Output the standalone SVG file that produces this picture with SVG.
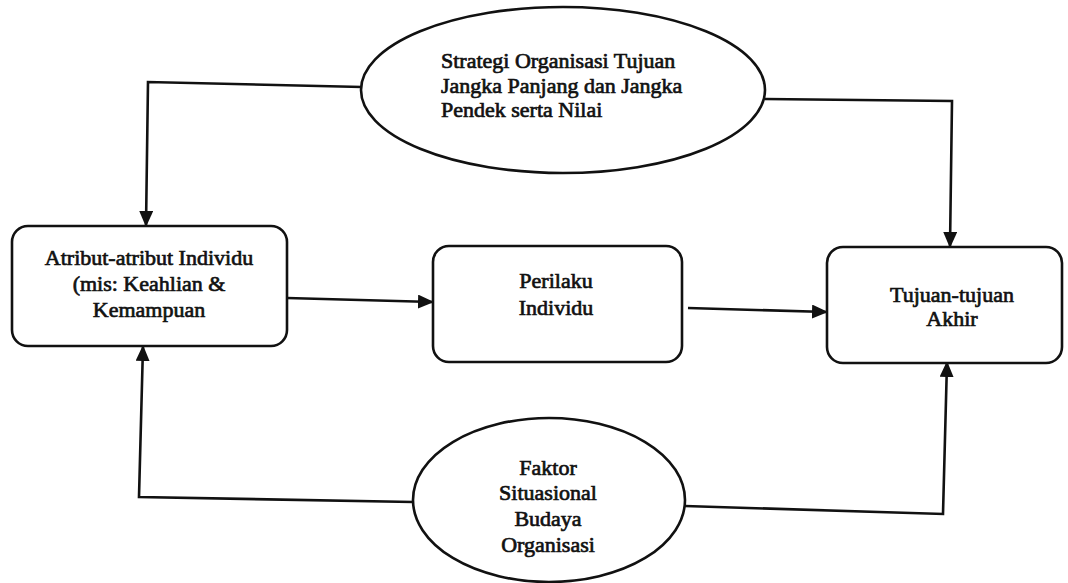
<svg xmlns="http://www.w3.org/2000/svg" width="1068" height="583" viewBox="0 0 1068 583">
<style>
.shape{fill:#fff;stroke:#111;stroke-width:2.6}
.conn{fill:none;stroke:#111;stroke-width:2.6;stroke-linejoin:miter}
.t{font-family:"Liberation Serif","Times New Roman",serif;font-size:22px;fill:#111;stroke:#111;stroke-width:0.7}
.c{text-anchor:middle}
</style>
<defs>
<marker id="ah" markerUnits="userSpaceOnUse" markerWidth="16" markerHeight="14" refX="15" refY="7" orient="auto">
<path d="M0,0 L16,7 L0,14 Z" fill="#111"/>
</marker>
</defs>
<rect width="1068" height="583" fill="#fff"/>
<g id="connectors">
<polyline class="conn" points="362,87 148,82 146,226" marker-end="url(#ah)"/>
<polyline class="conn" points="765,99 952,101 950,247" marker-end="url(#ah)"/>
<line class="conn" x1="287" y1="298" x2="433" y2="302" marker-end="url(#ah)"/>
<line class="conn" x1="688" y1="308" x2="827" y2="312" marker-end="url(#ah)"/>
<polyline class="conn" points="413,502 139,497 143,346" marker-end="url(#ah)"/>
<polyline class="conn" points="685,506 943,514 947,362" marker-end="url(#ah)"/>
</g>
<g id="strategi">
<ellipse class="shape" cx="563" cy="90" rx="202" ry="83"/>
<text class="t" x="441" y="68">Strategi Organisasi Tujuan</text>
<text class="t" x="441" y="93">Jangka Panjang dan Jangka</text>
<text class="t" x="441" y="117">Pendek serta Nilai</text>
</g>
<g id="atribut">
<rect class="shape" x="12" y="226" width="275" height="120" rx="16"/>
<text class="t c" x="149" y="265">Atribut-atribut Individu</text>
<text class="t c" x="149" y="291">(mis: Keahlian &amp;</text>
<text class="t c" x="149" y="317">Kemampuan</text>
</g>
<g id="perilaku">
<rect class="shape" x="433" y="246" width="249" height="116" rx="16"/>
<text class="t c" x="556" y="288">Perilaku</text>
<text class="t c" x="556" y="315">Individu</text>
</g>
<g id="tujuan">
<rect class="shape" x="827" y="247" width="235" height="116" rx="16"/>
<text class="t c" x="952" y="302">Tujuan-tujuan</text>
<text class="t c" x="952" y="326">Akhir</text>
</g>
<g id="faktor">
<ellipse class="shape" cx="549" cy="500" rx="136" ry="82"/>
<text class="t c" x="548" y="475">Faktor</text>
<text class="t c" x="548" y="500">Situasional</text>
<text class="t c" x="548" y="526">Budaya</text>
<text class="t c" x="548" y="552">Organisasi</text>
</g>
</svg>
